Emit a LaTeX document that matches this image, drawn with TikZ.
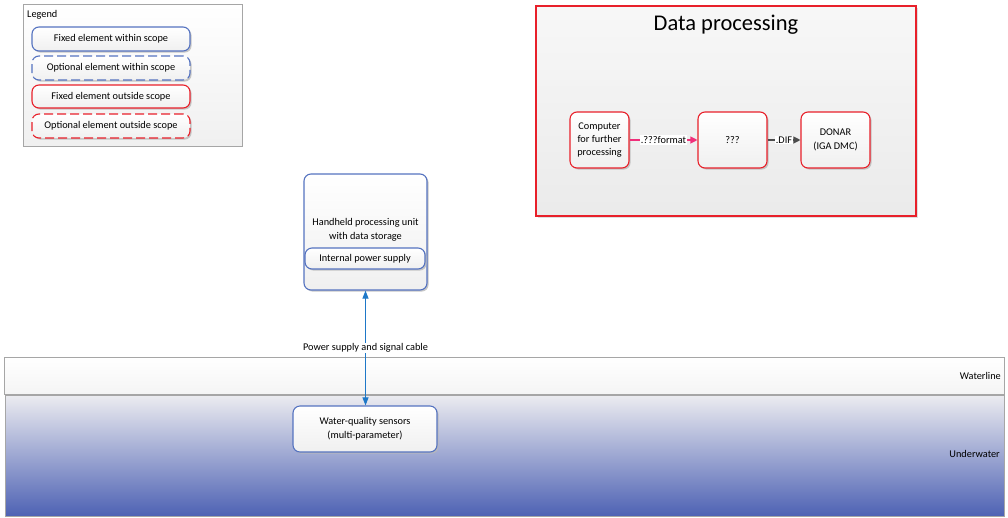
\documentclass[tikz,border=0pt]{standalone}
\usepackage{fontspec}
\setmainfont{Carlito}
\usetikzlibrary{shadows,arrows.meta}
\definecolor{scopeblue}{HTML}{5573C0}
\definecolor{outred}{HTML}{E8202A}
\definecolor{cablepink}{HTML}{F0307A}
\definecolor{cableblue}{HTML}{1E78C8}
\definecolor{deepwater}{HTML}{4E62B4}
\definecolor{shallow}{HTML}{ECECF0}
\tikzset{
  txt/.style={font=\fontsize{10.3}{14}\selectfont},
  elem/.style={rounded corners=7pt, line width=1.1pt, top color=white, bottom color=gray!12,
    drop shadow={shadow xshift=1.6pt, shadow yshift=-1.6pt, fill=gray!55, opacity=0.8},
    align=center, txt, inner sep=1pt},
  inscope/.style={elem, draw=scopeblue},
  outscope/.style={elem, draw=outred},
  optional/.style={dash pattern=on 9pt off 4pt},
  panel/.style={line width=0.6pt, draw=gray!70},
  flowlabel/.style={fill=white, text=black, inner sep=1pt, txt},
}
\begin{document}
\begin{tikzpicture}[x=1pt,y=-1pt]
\useasboundingbox (0,0) rectangle (1008,517);

% legend panel
\draw[panel, top color=white, bottom color=gray!12, drop shadow={shadow xshift=1.2pt, shadow yshift=-1.2pt, fill=gray!50}]
  (23,4) rectangle (242,146);
\node[anchor=west, txt, inner sep=0pt] (legtitle) at (27,15) {Legend};
\node[inscope, minimum width=158, minimum height=24] (l1) at (111,39) {Fixed element within scope};
\node[inscope, optional, minimum width=158, minimum height=24] (l2) at (111,68) {Optional element within scope};
\node[outscope, minimum width=158, minimum height=23] (l3) at (111,96.5) {Fixed element outside scope};
\node[outscope, optional, minimum width=158, minimum height=24] (l4) at (111,126) {Optional element outside scope};

% data processing panel
\draw[line width=1.1pt, draw=outred, top color=gray!6, bottom color=gray!16,
  drop shadow={shadow xshift=1.5pt, shadow yshift=-1.5pt, fill=gray!50}]
  (536,6) rectangle (916,216);
\node[font=\fontsize{22.5}{26}\selectfont] (dptitle) at (726,25) {Data processing};
\node[outscope, minimum width=59, minimum height=56, font=\fontsize{10.3}{13}\selectfont] (comp) at (599.5,140) {Computer\\for further\\processing};
\node[outscope, minimum width=69, minimum height=56] (unk) at (732.5,140) {???};
\node[outscope, minimum width=69, minimum height=56] (donar) at (835.5,140) {DONAR\\(IGA DMC)};
\draw[line width=1.1pt, cablepink, -{Triangle[width=7pt,length=7pt]}] (comp.east) -- node[flowlabel] (fmt) {.???format} (unk.west);
\draw[line width=1.1pt, gray!60!black, -{Triangle[width=7pt,length=7pt]}] (unk.east) -- node[flowlabel] (dif) {.DIF} (donar.west);

% water column
\shade[top color=shallow, bottom color=deepwater] (5,395) rectangle (1004,516);
\draw[panel] (5,395) rectangle (1004,516);
\draw[panel, top color=white, bottom color=gray!8] (4,357) rectangle (1004,394);
\node[anchor=east, txt, inner sep=0pt] (wl) at (1001,376) {Waterline};
\node[anchor=east, txt, inner sep=0pt] (uw) at (1000,454) {Underwater};

% devices
\node[inscope, minimum width=123, minimum height=116] (hh) at (365.5,232) {};
\node[txt, align=center, inner sep=0pt] (hhtext) at (365.5,230) {Handheld processing unit\\with data storage};
\node[inscope, minimum width=120, minimum height=21] (pwr) at (365,258.5) {Internal power supply};
\node[inscope, minimum width=144, minimum height=46] (sens) at (365,429) {Water-quality sensors\\(multi-parameter)};

% cable
\draw[line width=1pt, cableblue, {Triangle[width=6pt,length=8pt]}-{Triangle[width=6pt,length=8pt]}]
  (hh.south) -- node[flowlabel, pos=0.5] (cable) {Power supply and signal cable} (hh.south |- sens.north);
\end{tikzpicture}
\end{document}
